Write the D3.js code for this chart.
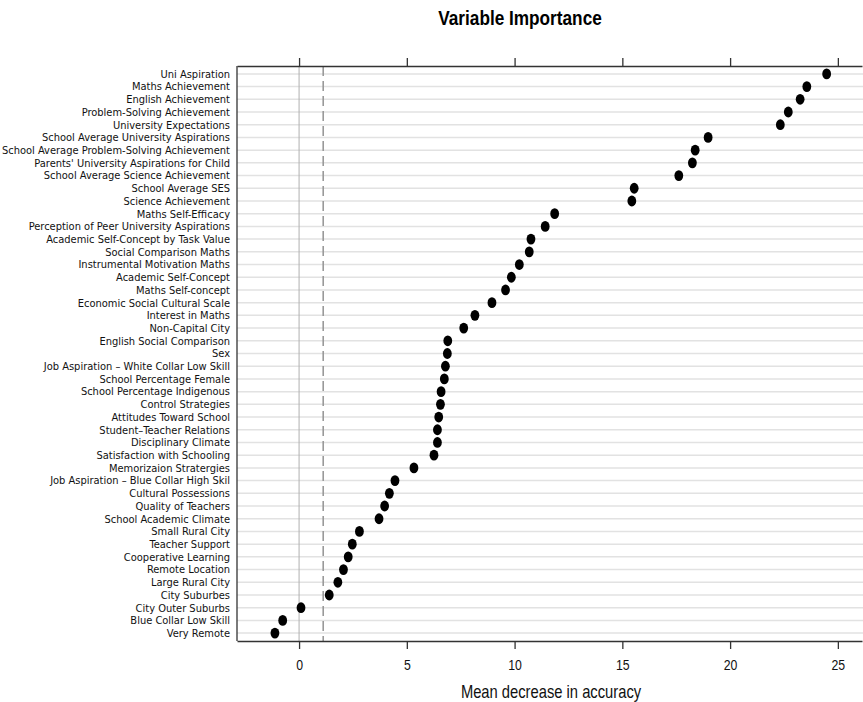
<!DOCTYPE html>
<html>
<head>
<meta charset="utf-8">
<script src="https://cdn.jsdelivr.net/npm/d3@7"></script>
<style>
  body { margin: 0; background: #fff; }
  .ylab { font-family: "DejaVu Sans Condensed", "DejaVu Sans", sans-serif; font-size: 11px; fill: #111; }
  .tick text { font-family: "Liberation Sans", Arial, sans-serif; font-size: 15px; fill: #111; }
</style>
</head>
<body>
<figure id="chart" style="margin:0"></figure>
<script>
// variable names, top to bottom
let variables = [
  "Uni Aspiration", "Maths Achievement", "English Achievement", "Problem-Solving Achievement",
  "University Expectations", "School Average University Aspirations",
  "School Average Problem-Solving Achievement", "Parents' University Aspirations for Child",
  "School Average Science Achievement", "School Average SES", "Science Achievement",
  "Maths Self-Efficacy", "Perception of Peer University Aspirations",
  "Academic Self-Concept by Task Value", "Social Comparison Maths", "Instrumental Motivation Maths",
  "Academic Self-Concept", "Maths Self-concept", "Economic Social Cultural Scale",
  "Interest in Maths", "Non-Capital City", "English Social Comparison", "Sex",
  "Job Aspiration \u2013 White Collar Low Skill", "School Percentage Female",
  "School Percentage Indigenous", "Control Strategies", "Attitudes Toward School",
  "Student\u2013Teacher Relations", "Disciplinary Climate", "Satisfaction with Schooling",
  "Memorizaion Stratergies", "Job Aspiration \u2013 Blue Collar High Skil", "Cultural Possessions",
  "Quality of Teachers", "School Academic Climate", "Small Rural City", "Teacher Support",
  "Cooperative Learning", "Remote Location", "Large Rural City", "City Suburbes",
  "City Outer Suburbs", "Blue Collar Low Skill", "Very Remote"
];

// mean decrease in accuracy, same order
let importance = [
  24.48, 23.56, 23.25, 22.7, 22.33, 18.98, 18.38, 18.25, 17.62, 15.55, 15.44,
  11.86, 11.42, 10.76, 10.68, 10.22, 9.85, 9.58, 8.95, 8.16, 7.64,
  6.9, 6.88, 6.79, 6.74, 6.59, 6.56, 6.48, 6.42, 6.42, 6.26,
  5.33, 4.45, 4.19, 3.97, 3.71, 2.8, 2.47, 2.28, 2.06, 1.8, 1.4,
  0.09, -0.76, -1.12
];

let xTicks = [0, 5, 10, 15, 20, 25];
let cutoff = 1.12; // dashed reference line

let data = variables.map((v, i) => ({ name: v, value: importance[i] }));

let dimensions = {
    width: 863,
    height: 702,
    left: 237,
    right: 862,
    top: 66,
    bottom: 641
};

var svg = d3.select("figure#chart")
    .append("svg")
    .attr("width", dimensions.width)
    .attr("height", dimensions.height);

var xScale = d3.scaleLinear()
    .domain([-2.88, 26.12])
    .range([dimensions.left, dimensions.right]);

var yScale = d3.scalePoint()
    .domain(variables)
    .range([dimensions.top, dimensions.bottom])
    .padding(0.62);

// horizontal grid lines, one per row
svg.append("g")
    .selectAll("line")
    .data(variables)
    .join("line")
    .attr("x1", dimensions.left)
    .attr("x2", dimensions.width)
    .attr("y1", d => yScale(d))
    .attr("y2", d => yScale(d))
    .attr("stroke", "#e2e2e2")
    .attr("stroke-width", 1.5);

// zero line
svg.append("line")
    .attr("x1", xScale(0)).attr("x2", xScale(0))
    .attr("y1", dimensions.top).attr("y2", dimensions.bottom)
    .attr("stroke", "#b0b0b0")
    .attr("stroke-width", 1);

// dashed line
svg.append("line")
    .attr("x1", xScale(cutoff)).attr("x2", xScale(cutoff))
    .attr("y1", dimensions.top).attr("y2", dimensions.bottom)
    .attr("stroke", "#999")
    .attr("stroke-width", 1.6)
    .attr("stroke-dasharray", "10,5");

// axes (domain path = frame top/bottom)
var xAxisTop = svg.append("g")
    .attr("transform", `translate(0, ${dimensions.top})`)
    .call(d3.axisTop(xScale).tickValues(xTicks).tickSize(8).tickSizeOuter(0).tickFormat(""));

var xAxis = svg.append("g")
    .attr("transform", `translate(0, ${dimensions.bottom})`)
    .call(d3.axisBottom(xScale).tickValues(xTicks).tickSize(8).tickSizeOuter(0).tickPadding(10));

// narrow look for tick labels
xAxis.selectAll(".tick text")
    .attr("transform", "scale(0.82,1)");

svg.selectAll(".domain, .tick line")
    .attr("stroke", "#333")
    .attr("stroke-width", 1.3);

// left frame line
svg.append("line")
    .attr("x1", dimensions.left).attr("x2", dimensions.left)
    .attr("y1", dimensions.top).attr("y2", dimensions.bottom)
    .attr("stroke", "#333")
    .attr("stroke-width", 1.3);

// row labels
svg.append("g")
    .selectAll("text")
    .data(data)
    .join("text")
    .attr("class", "ylab")
    .attr("x", 230)
    .attr("y", d => yScale(d.name))
    .attr("dy", "0.35em")
    .attr("text-anchor", "end")
    .text(d => d.name);

// dots
svg.append("g")
    .selectAll("ellipse")
    .data(data)
    .join("ellipse")
    .attr("cx", d => xScale(d.value))
    .attr("cy", d => yScale(d.name))
    .attr("rx", 4.4)
    .attr("ry", 5.4)
    .attr("fill", "#000");

// title
svg.append("text")
    .attr("transform", "translate(520, 25) scale(0.82,1)")
    .attr("text-anchor", "middle")
    .style("font-family", "'Liberation Sans', Arial, sans-serif")
    .style("font-weight", "bold")
    .style("font-size", "21px")
    .text("Variable Importance");

// x axis title
svg.append("text")
    .attr("transform", "translate(551, 698) scale(0.82,1)")
    .attr("text-anchor", "middle")
    .style("font-family", "'Liberation Sans', Arial, sans-serif")
    .style("font-size", "18px")
    .style("fill", "#111")
    .text("Mean decrease in accuracy");
</script>
</body>
</html>
